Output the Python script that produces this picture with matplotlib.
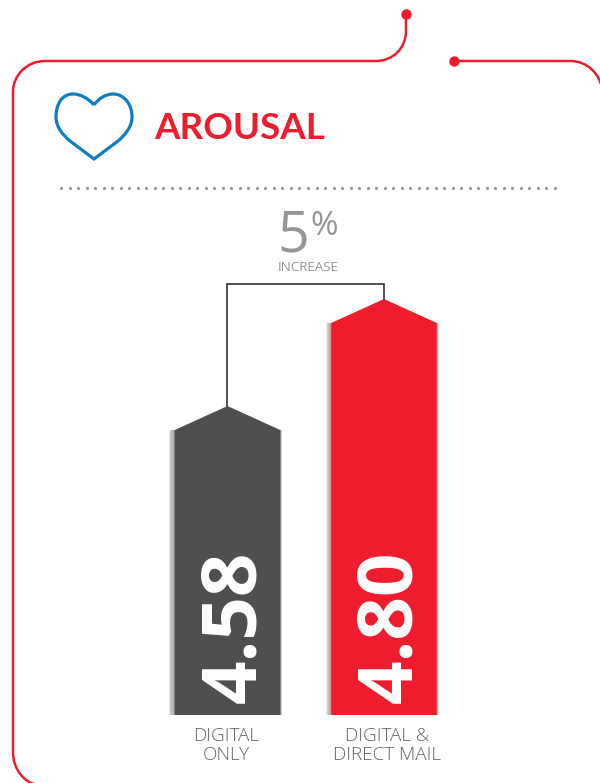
import numpy as np
import matplotlib.pyplot as plt
from matplotlib.path import Path
from matplotlib.patches import PathPatch

categories = ['DIGITAL\nONLY', 'DIGITAL &\nDIRECT MAIL']
values = [4.58, 4.80]
value_labels = ['4.58', '4.80']
bar_colors = ['#514F4D', '#EF1C2E']
shadow_colors = ['#514F4D', '#8A5A4A']

RED = '#EF1C2E'
GREY = '#939598'
W, H = 600, 783

plt.rcParams['font.family'] = ['Open Sans', 'DejaVu Sans']
fig = plt.figure(figsize=(6, 7.83), dpi=100)

# decoration layer in pixel coordinates
bg = fig.add_axes([0, 0, 1, 1])
bg.set_xlim(0, W)
bg.set_ylim(H, 0)
bg.axis('off')

# red frame, left part
left = Path(
    [(406, 14), (406, 31), (406, 48), (393, 61), (376, 61), (45, 61),
     (27, 61), (13, 75), (13, 92), (13, 752), (13, 769), (24, 783), (38, 785)],
    [Path.MOVETO, Path.LINETO, Path.CURVE4, Path.CURVE4, Path.CURVE4, Path.LINETO,
     Path.CURVE4, Path.CURVE4, Path.CURVE4, Path.LINETO, Path.CURVE4, Path.CURVE4, Path.CURVE4])
bg.add_patch(PathPatch(left, fc='none', ec=RED, lw=1.8))
right = Path(
    [(454, 61), (570, 61), (587, 61), (600, 73), (603, 92)],
    [Path.MOVETO, Path.LINETO, Path.CURVE4, Path.CURVE4, Path.CURVE4])
bg.add_patch(PathPatch(right, fc='none', ec=RED, lw=1.8))
bg.plot([406, 454], [14, 61], 'o', color=RED, ms=7.5, mec='none', ls='none')

# heart icon
heart = Path(
    [(94, 105), (88, 98), (80, 94), (73, 94), (62, 94), (56, 104), (56, 117),
     (56, 127), (63, 135), (70, 141), (94, 159),
     (118, 141), (125, 135), (132, 127), (132, 117), (132, 104), (124, 94), (113, 94),
     (106, 94), (99, 98), (94, 105)],
    [Path.MOVETO] + [Path.CURVE4] * 9 + [Path.LINETO, Path.LINETO] + [Path.CURVE4] * 9)
bg.add_patch(PathPatch(heart, fc='none', ec='#0F7DC2', lw=2.3, joinstyle='miter'))

bg.text(154, 139, 'AROUSAL', color=RED, fontsize=26.5, fontweight='bold',
        family=['Lato', 'Open Sans'], ha='left', va='baseline')

# dotted divider
dots = np.linspace(61, 555, 59)
bg.scatter(dots, np.full(len(dots), 188), s=5, color='#999999', linewidths=0)

bg.text(293, 252, '5', color=GREY, fontsize=40, ha='center', va='baseline')
bg.text(324, 235, '%', color=GREY, fontsize=24, ha='center', va='baseline')
bg.text(308, 271, 'INCREASE', color=GREY, fontsize=9.6, ha='center', va='baseline')

# chart layer: baseline sits at y=715px, 486 px per unit
px_per_unit = 107 / (values[1] - values[0])
base = values[0] - 309 / px_per_unit
ax = fig.add_axes([0, (H - 715) / H, 1, 715 / H])
ax.patch.set_alpha(0)
ax.axis('off')
ax.set_ylim(base, base + 715 / px_per_unit)
spacing = 156.5
x0 = -227.5 / spacing
ax.set_xlim(x0, x0 + W / spacing)
cap = 24 / px_per_unit
bar_w = 105.5 / spacing


def arrow_bar(x, val, width, color):
    xs = [x - width / 2, x - width / 2, x, x + width / 2, x + width / 2]
    ys = [base, val - cap, val, val - cap, base]
    ax.fill(xs, ys, color=color, lw=0, zorder=3)


xpos = np.arange(len(values))
for i, val in enumerate(values):
    # soft blurred edge down the sides of the bar
    for k in range(1, 6):
        lpad = k * 1.1 / spacing
        rpad = k * 0.4 / spacing
        ax.bar(i + (rpad - lpad) / 2, val - cap - base, bar_w + lpad + rpad, bottom=base,
               color=shadow_colors[i], alpha=0.15, lw=0, zorder=2)
    arrow_bar(i, val, bar_w, bar_colors[i])
    ax.text(i + 0.05, base + 12 / px_per_unit, value_labels[i], rotation=90, color='white',
            fontsize=55, fontweight='bold', ha='center', va='bottom', zorder=4)

# bracket between the two apexes
ax_top = values[1] + 15 / px_per_unit
ax.plot([xpos[0], xpos[0], xpos[1], xpos[1]], [values[0], ax_top, ax_top, values[1]],
        color='#333333', lw=1.2, zorder=5, solid_joinstyle='miter')

for i, lab in enumerate(categories):
    ax.text(i * 1.027 - 0.01, base - 12 / px_per_unit, lab, color='#636466', fontsize=13.6,
            fontweight='light', ha='center', va='top', linespacing=1.07, clip_on=False)

fig.savefig('out.png', dpi=100)
